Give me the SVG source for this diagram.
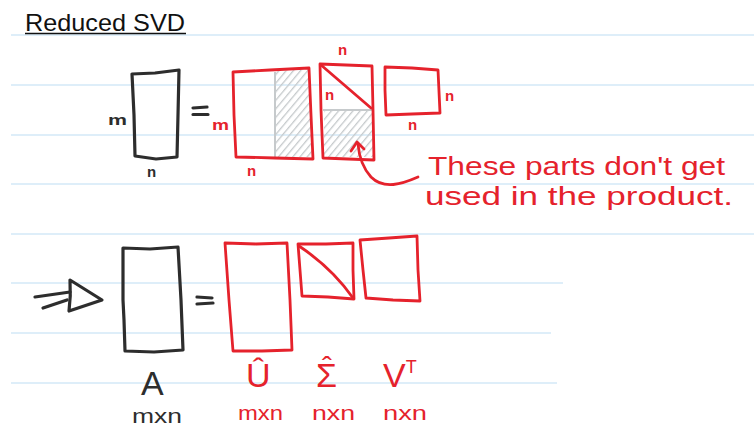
<svg xmlns="http://www.w3.org/2000/svg" width="754" height="427" viewBox="0 0 754 427">
  <defs>
    <!-- diagonal grey shading for the unused blocks -->
    <pattern id="hatch" width="5.5" height="5.5" patternUnits="userSpaceOnUse" patternTransform="rotate(40)">
      <line x1="0" y1="0" x2="0" y2="5.5" stroke="#c6cacc" stroke-width="2.6"/>
    </pattern>
    <style>
      .rule { stroke: #d3e9f7; stroke-width: 1.6; fill: none; }
      .ink { stroke: #2d2d2d; stroke-width: 3.2; fill: none; stroke-linejoin: round; stroke-linecap: round; }
      .red { stroke: #e5222c; stroke-width: 2.8; fill: none; stroke-linejoin: round; stroke-linecap: round; }
      .grey { stroke: #c6cacc; stroke-width: 2; fill: none; }
      .lbl { font-family: "Liberation Sans", Arial, sans-serif; font-weight: bold; font-size: 15px; }
      .big { font-family: "Liberation Sans", Arial, sans-serif; font-size: 34px; }
      .dim { font-family: "Liberation Sans", Arial, sans-serif; font-size: 20px; }
      .note { font-family: "Liberation Sans", Arial, sans-serif; font-size: 25px; fill: #e5222c; }
      .k { fill: #2d2d2d; }
      .r { fill: #e5222c; }
    </style>
  </defs>

  <rect width="754" height="427" fill="#ffffff"/>

  <!-- ruled notebook lines -->
  <g id="rules">
    <line class="rule" x1="11" y1="35" x2="754" y2="35"/>
    <line class="rule" x1="11" y1="85" x2="754" y2="85"/>
    <line class="rule" x1="11" y1="135" x2="754" y2="135"/>
    <line class="rule" x1="11" y1="184" x2="754" y2="184"/>
    <line class="rule" x1="11" y1="234" x2="754" y2="234"/>
    <line class="rule" x1="11" y1="283" x2="563" y2="283"/>
    <line class="rule" x1="11" y1="333" x2="551" y2="333"/>
    <line class="rule" x1="11" y1="383" x2="557" y2="383"/>
  </g>

  <!-- heading -->
  <g id="title">
    <text x="25" y="31" font-family="'Liberation Sans', Arial, sans-serif" font-size="24" fill="#111" textLength="160" lengthAdjust="spacingAndGlyphs">Reduced SVD</text>
    <line x1="25" y1="33.5" x2="186" y2="33.5" stroke="#111" stroke-width="1.6"/>
  </g>

  <!-- full SVD: A = U Σ V^T -->
  <g id="matrix-A-full">
    <path class="ink" d="M132,74 L155,73 L179,70 L178,115 L177,157 L156,159 L135,156 L134,115 Z"/>
    <text class="lbl k" x="108" y="125" font-size="16" textLength="19" lengthAdjust="spacingAndGlyphs">m</text>
    <text class="lbl k" x="147" y="177">n</text>
  </g>

  <g id="equals-top">
    <path class="ink" d="M193,108 L207,107 M193,114.5 L208,114.5"/>
  </g>

  <g id="matrix-U-full">
    <polygon points="276,71 309,69 312,157 276,157" fill="url(#hatch)"/>
    <line class="grey" x1="275" y1="72" x2="275" y2="157"/>
    <path class="red" d="M233,72 L270,70 L309,68 L311,115 L313,159 L275,158 L236,157 L234,115 Z"/>
    <text class="lbl r" x="212" y="130" font-size="16" textLength="17" lengthAdjust="spacingAndGlyphs">m</text>
    <text class="lbl r" x="247" y="176">n</text>
  </g>

  <g id="matrix-Sigma-full">
    <polygon points="324,111 373,111 373,157 324,157" fill="url(#hatch)"/>
    <line class="grey" x1="323" y1="110" x2="372" y2="110"/>
    <path class="red" d="M320,64 L346,65 L372,66 L373,110 L374,160 L348,159 L323,158 L321,110 Z"/>
    <path class="red" d="M321,65 L371,108"/>
    <text class="lbl r" x="338" y="55">n</text>
    <text class="lbl r" x="325" y="100">n</text>
  </g>

  <g id="matrix-V-full">
    <path class="red" d="M385,67 L412,68 L438,70 L440,113 L412,114 L386,115 L385,90 Z"/>
    <text class="lbl r" x="445" y="101">n</text>
    <text class="lbl r" x="408" y="130">n</text>
  </g>

  <!-- callout pointing at the shaded blocks -->
  <g id="connectors">
    <path class="red" d="M418,177 C402,184 384,190 371,177 C362,167 359,156 358,144"/>
    <path class="red" d="M351,151 L357,142 L364,149"/>
  </g>

  <g id="note">
    <text class="note" x="428" y="175" textLength="297" lengthAdjust="spacingAndGlyphs">These parts don't get</text>
    <text class="note" x="425" y="205" textLength="308" lengthAdjust="spacingAndGlyphs">used in the product.</text>
  </g>

  <!-- reduced SVD: A = Û Σ̂ V^T -->
  <g id="implies-arrow">
    <path class="ink" d="M35,297 L70,292 M43,308 L67,300"/>
    <path class="ink" d="M70,280 L102,300 L69,311 Q71,296 70,280 Z"/>
  </g>

  <g id="matrix-A">
    <path class="ink" d="M123,248 L150,249 L178,247 L181,300 L183,350 L154,352 L125,351 L124,320 L123,300 Z"/>
    <text class="big k" x="141" y="395">A</text>
    <text class="dim k" x="132" y="423" font-size="22" textLength="50" lengthAdjust="spacingAndGlyphs">mxn</text>
  </g>

  <g id="equals-bottom">
    <path class="ink" d="M197,297 L212,298 M197,304 L213,303"/>
  </g>

  <g id="matrix-U-hat">
    <path class="red" d="M225,243 L256,244 L287,243 L290,300 L292,350 L262,351 L233,351 L229,300 Z"/>
    <text class="big r" x="246" y="387" font-size="32">Û</text>
    <text class="dim r" x="238" y="420" textLength="45" lengthAdjust="spacingAndGlyphs">mxn</text>
  </g>

  <g id="matrix-Sigma-hat">
    <path class="red" d="M298,244 L326,244 L353,243 L353,270 L354,299 L328,297 L302,296 L300,270 Z"/>
    <path class="red" d="M299,246 Q332,268 353,298"/>
    <!-- sigma with its hat set as a spacing circumflex pulled back over the letter -->
    <text class="big r" x="316" y="387" font-size="32">Σ<tspan font-size="30" dx="-15" dy="-10">ˆ</tspan></text>
    <text class="dim r" x="312" y="420" textLength="43" lengthAdjust="spacingAndGlyphs">nxn</text>
  </g>

  <g id="matrix-V-T">
    <path class="red" d="M360,240 L389,238 L417,236 L418,270 L420,301 L393,300 L366,298 L363,270 Z"/>
    <text class="big r" x="383" y="387">V<tspan font-size="18" dy="-14">T</tspan></text>
    <text class="dim r" x="383" y="420" textLength="44" lengthAdjust="spacingAndGlyphs">nxn</text>
  </g>
</svg>
